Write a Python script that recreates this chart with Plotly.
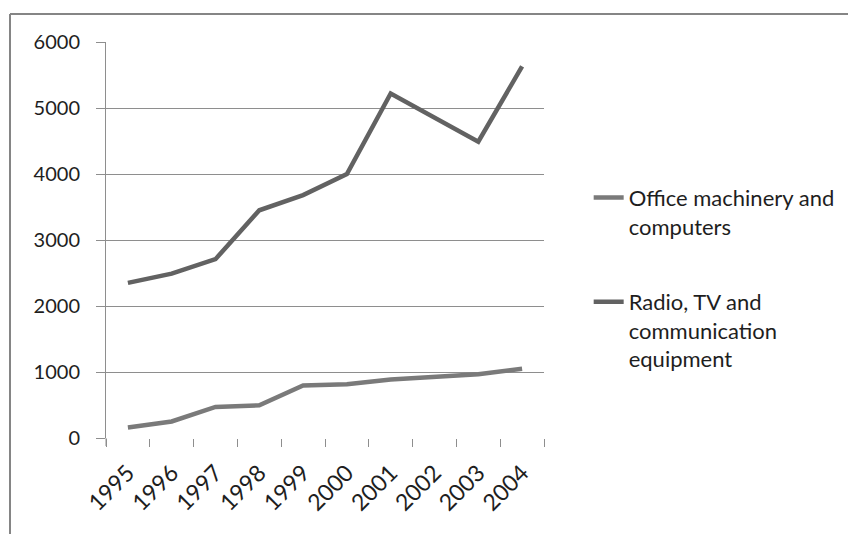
import plotly.graph_objects as go

# Output by industry, 1995-2004
years = ["1995", "1996", "1997", "1998", "1999", "2000", "2001", "2002", "2003", "2004"]
office_computers = [160, 250, 470, 495, 795, 815, 885, 930, 965, 1050]
radio_tv_comm = [2350, 2490, 2710, 3450, 3680, 4000, 5220, 4855, 4490, 5630]

series_names = ["Office machinery and<br>computers",
                "Radio, TV and<br>communication<br>equipment"]

FONT = "Lato, 'Open Sans', sans-serif"
TEXT = "#1e1e1e"
GRID = "#8e8e8e"

fig = go.Figure()
fig.add_trace(go.Scatter(x=years, y=office_computers, mode="lines", name=series_names[0],
                         legendgroup="a", line=dict(color="#7a7a7a", width=4.5)))
fig.add_trace(go.Scatter(x=years, y=radio_tv_comm, mode="lines", name=series_names[1],
                         legendgroup="b", line=dict(color="#626262", width=4.5)))

L, T, W, H = 106, 42, 438, 396.5
fig.update_layout(
    width=848, height=534,
    margin=dict(l=L, r=848 - L - W, t=T, b=534 - T - H, pad=0, autoexpand=False),
    paper_bgcolor="white", plot_bgcolor="white",
    font=dict(family=FONT, size=20, color=TEXT),
    showlegend=True,
    legend=dict(x=1.102, xanchor="left", y=0.66, yanchor="top",
                font=dict(family=FONT, size=22, color=TEXT),
                valign="top", traceorder="grouped", tracegroupgap=44,
                bgcolor="rgba(0,0,0,0)"),
    xaxis=dict(type="category", range=[-0.5, len(years) - 0.5], automargin=False,
               showgrid=False, zeroline=False, showline=False,
               ticks="outside", ticklen=8, tickwidth=1, tickcolor=GRID,
               tickson="boundaries", tickangle=-45, ticklabelstandoff=16,
               tickfont=dict(family=FONT, size=23, color=TEXT)),
    yaxis=dict(range=[0, 6000], dtick=1000, automargin=False,
               showgrid=True, gridcolor=GRID, gridwidth=1,
               zeroline=False, showline=True, linecolor=GRID, linewidth=1,
               ticks="outside", ticklen=9, tickwidth=1, tickcolor=GRID,
               ticklabelstandoff=12,
               tickfont=dict(family=FONT, size=20, color=TEXT)),
)

# Chart frame, running off the right and bottom edges of the page
frame_left = (10 - L) / W
frame_top = 1 + (T - 14) / H
fig.add_shape(type="line", xref="paper", yref="paper",
              x0=frame_left, x1=(860 - L) / W, y0=frame_top, y1=frame_top,
              line=dict(color="#858585", width=2))
fig.add_shape(type="line", xref="paper", yref="paper",
              x0=frame_left, x1=frame_left, y0=frame_top, y1=-(540 - T - H) / H,
              line=dict(color="#858585", width=2))
# short extension of the value axis below the baseline
fig.add_shape(type="line", xref="paper", yref="paper",
              x0=0, x1=0, y0=0, y1=-8 / H,
              line=dict(color=GRID, width=1))

fig.write_html("out.html")
